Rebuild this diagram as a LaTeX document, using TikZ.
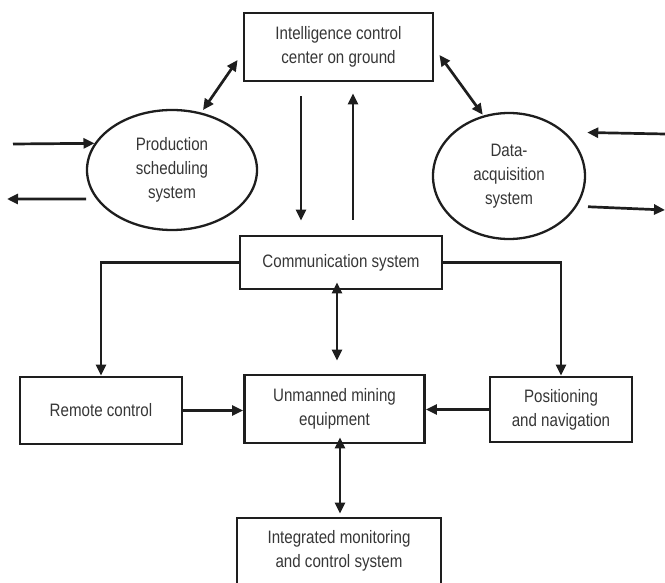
\documentclass[tikz,border=0pt]{standalone}
\usepackage{fontspec}
\setmainfont{Liberation Sans}[FakeStretch=0.84]
\usetikzlibrary{arrows.meta,shapes.geometric}
\definecolor{linec}{HTML}{1E1E1E}
\definecolor{txt}{HTML}{363636}
\begin{document}
\begin{tikzpicture}[x=1pt,y=-1pt,
  lbl/.style={align=center, text=txt, font=\fontsize{18}{24}\selectfont, inner sep=0pt},
  box/.style={lbl, draw=linec, line width=2.8pt, rectangle},
  oval/.style={lbl, draw=linec, line width=2.3pt, ellipse},
  tip/.tip={Triangle[length=11pt,width=10pt]},
  conn/.style={draw=linec, line width=2.7pt, -tip},
  dconn/.style={draw=linec, line width=2.7pt, tip-tip}]
\useasboundingbox (0,0) rectangle (665,583);

\node[box, minimum width=189pt, minimum height=68pt] (intel) at (338.5,47) {Intelligence control\\center on ground};
\node[oval, minimum width=170pt, minimum height=120pt] (prod) at (172,170) {Production\\scheduling\\system};
\node[oval, minimum width=152pt, minimum height=126pt] (data) at (509,176) {Data-\\acquisition\\system};
\node[box, minimum width=202pt, minimum height=53pt] (comm) at (341,262.5) {Communication system};
\node[box, minimum width=162pt, minimum height=67pt] (remote) at (101,410.5) {Remote control};
\node[box, minimum width=180pt, minimum height=68pt] (unman) at (334.5,409) {Unmanned mining\\equipment};
\node[box, minimum width=142pt, minimum height=65pt] (pos) at (561,409.5) {Positioning\\and navigation};
\node[box, minimum width=204pt, minimum height=66pt] (integ) at (339,551) {Integrated monitoring\\and control system};

\coordinate (pin) at (13,144);
\coordinate (pout) at (7,199);
\coordinate (din) at (665,134);
\coordinate (dout) at (665,210);

% intelligence <-> ellipses
\draw[dconn, shorten <=3pt] (prod.63) -- ([xshift=-5pt,yshift=-13pt]intel.west);
\draw[dconn, shorten >=1pt] ([xshift=5pt,yshift=-8pt]intel.east) -- (data.113);

% intelligence <-> communication
\draw[conn] ([xshift=-37.5pt,yshift=-14pt]intel.south) -- ([xshift=-40pt,yshift=14pt]comm.north);
\draw[conn] ([xshift=12pt,yshift=15pt]comm.north) -- ([xshift=14.5pt,yshift=-11pt]intel.south);

% external arrows
\draw[conn] (pin) -- (prod.161);
\draw[conn, shorten <=10pt] (prod.-159) -- (pout);
\draw[conn, shorten >=22pt] (din) -- (data.38.7);
\draw[conn, shorten <=11pt] (data.-24) -- (dout);

% communication branches
\draw[conn] (comm.west) -| (remote.north);
\draw[conn] (comm.east) -| (pos.north);
\draw[dconn] ([xshift=-4pt,yshift=8pt]comm.south) -- ([xshift=2.5pt,yshift=13pt]unman.north);

% into unmanned
\draw[conn] (remote.east) -- (remote.east -| unman.west);
\draw[conn] (pos.west) -- (pos.west -| unman.east);

% unmanned <-> integrated
\draw[dconn] ([xshift=5.5pt,yshift=7pt]unman.south) -- ([xshift=1pt,yshift=3pt]integ.north);
\end{tikzpicture}
\end{document}
